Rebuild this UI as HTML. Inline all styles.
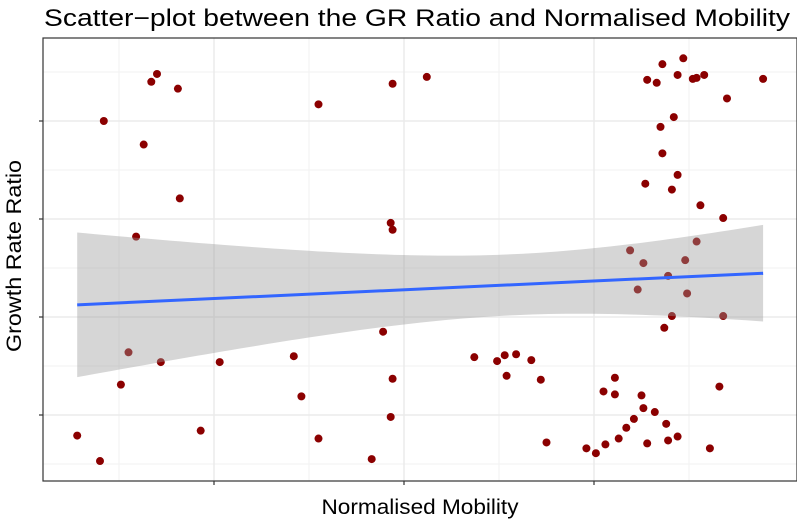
<!DOCTYPE html>
<html><head><meta charset="utf-8"><style>
body{margin:0;background:#fff;font-family:"Liberation Sans",sans-serif}
</style></head><body>
<svg id="c" width="797" height="523" xmlns="http://www.w3.org/2000/svg">
<text x="417" y="26" text-anchor="middle" font-size="24" textLength="746" lengthAdjust="spacingAndGlyphs" fill="#000" font-family="Liberation Sans, sans-serif">Scatter−plot between the GR Ratio and Normalised Mobility</text>
<text x="420" y="514" text-anchor="middle" font-size="21" textLength="197" lengthAdjust="spacingAndGlyphs" fill="#000" font-family="Liberation Sans, sans-serif">Normalised Mobility</text>
<text transform="translate(21,256) rotate(-90)" text-anchor="middle" font-size="21" textLength="192" lengthAdjust="spacingAndGlyphs" fill="#000" font-family="Liberation Sans, sans-serif">Growth Rate Ratio</text>
<g id="grid"></g><g id="pts"></g><g id="fit"></g><g id="axes"></g>
</svg>
<script>
const xVals=[0.28,0.40,0.42,0.51,0.55,0.59,0.63,0.67,0.70,0.72,0.81,0.82,0.93,1.03,1.42,1.46,1.55,1.55,1.83,1.89,1.93,1.94,1.94,1.94,1.93,2.12,2.37,2.49,2.53,2.54,2.59,2.67,2.72,2.75,2.96,3.01,3.05,3.06,3.11,3.11,3.13,3.17,3.19,3.21,3.23,3.25,3.26,3.26,3.27,3.28,3.28,3.32,3.33,3.35,3.36,3.36,3.37,3.38,3.39,3.39,3.41,3.41,3.42,3.44,3.44,3.44,3.47,3.48,3.49,3.52,3.54,3.54,3.56,3.58,3.61,3.66,3.68,3.68,3.70,3.89];
const yVals=[0.79,0.53,4.00,1.31,1.64,2.82,3.76,4.40,4.48,1.54,4.33,3.21,0.84,1.54,1.60,1.19,4.17,0.76,0.55,1.85,2.96,2.89,4.38,1.37,0.98,4.45,1.59,1.55,1.61,1.40,1.62,1.56,1.36,0.72,0.66,0.61,1.24,0.70,1.38,1.21,0.76,0.87,2.68,0.96,2.28,1.20,1.07,2.55,3.36,4.42,0.71,1.03,4.39,3.94,3.67,4.58,1.89,0.91,2.42,0.74,2.01,3.30,4.04,4.47,3.45,0.78,4.64,2.58,2.24,4.43,2.77,4.44,3.14,4.47,0.66,1.29,3.01,2.01,4.23,4.43];
const xMajor=[1,2,3];
const yMajor=[1,2,3,4];
const NS="http://www.w3.org/2000/svg";
const L=43,R=797,T=38,B=481;
const sx=v=>24+v*190, sy=v=>513-v*98;
function mk(tag,attrs,parent){const e=document.createElementNS(NS,tag);for(const k in attrs)e.setAttribute(k,attrs[k]);parent.appendChild(e);return e;}
const grid=document.getElementById('grid');
mk('rect',{x:L,y:T,width:R-L,height:B-T,fill:'#fff'},grid);
for(let v=0.5;v<4.2;v+=1){const x=sx(v);if(x>L&&x<R){const l=mk('line',{x1:x,x2:x,y1:T,y2:B,stroke:'#f2f2f2','stroke-width':1},grid);}}
for(let v=0.5;v<4.9;v+=1){const y=sy(v);if(y>T&&y<B){const l=mk('line',{x1:L,x2:R,y1:y,y2:y,stroke:'#f2f2f2','stroke-width':1},grid);}}
xMajor.forEach(v=>{const l=mk('line',{x1:sx(v),x2:sx(v),y1:T,y2:B,stroke:'#ebebeb','stroke-width':1.5},grid);});
yMajor.forEach(v=>{const l=mk('line',{x1:L,x2:R,y1:sy(v),y2:sy(v),stroke:'#ebebeb','stroke-width':1.5},grid);});
const pts=document.getElementById('pts');
xVals.forEach((x,i)=>{const c=mk('circle',{cx:sx(x),cy:sy(yVals[i]),r:4,fill:'#8b0000'},pts);

});
const n=xVals.length;const mx=xVals.reduce((a,b)=>a+b)/n,my=yVals.reduce((a,b)=>a+b)/n;
let sxx=0,sxy=0;xVals.forEach((x,i)=>{sxx+=(x-mx)**2;sxy+=(x-mx)*(yVals[i]-my);});
const b=sxy/sxx,a=my-b*mx;let sse=0;xVals.forEach((x,i)=>{sse+=(yVals[i]-a-b*x)**2;});
const s=Math.sqrt(sse/(n-2)),t=1.99;
const x0=Math.min(...xVals),x1=Math.max(...xVals);
let up=[],lo=[];for(let k=0;k<=80;k++){const x=x0+(x1-x0)*k/80;const yh=a+b*x;const se=t*s*Math.sqrt(1/n+(x-mx)**2/sxx);up.push(sx(x)+','+sy(yh+se));lo.unshift(sx(x)+','+sy(yh-se));}
const fit=document.getElementById('fit');
const rib=mk('polygon',{points:up.concat(lo).join(' '),fill:'#999','fill-opacity':0.4},fit);


const ln=mk('line',{x1:sx(x0),y1:sy(a+b*x0),x2:sx(x1),y2:sy(a+b*x1),stroke:'#3366ff','stroke-width':3},fit);


const ax=document.getElementById('axes');
const bd=mk('rect',{x:L,y:T,width:R-L,height:B-T,fill:'none',stroke:'#333','stroke-width':1.2},ax);


xMajor.forEach(v=>{const l=mk('line',{x1:sx(v),x2:sx(v),y1:B,y2:B+4,stroke:'#333','stroke-width':1.2},ax);});
yMajor.forEach(v=>{const l=mk('line',{x1:L-4,x2:L,y1:sy(v),y2:sy(v),stroke:'#333','stroke-width':1.2},ax);});
</script>
</body></html>
